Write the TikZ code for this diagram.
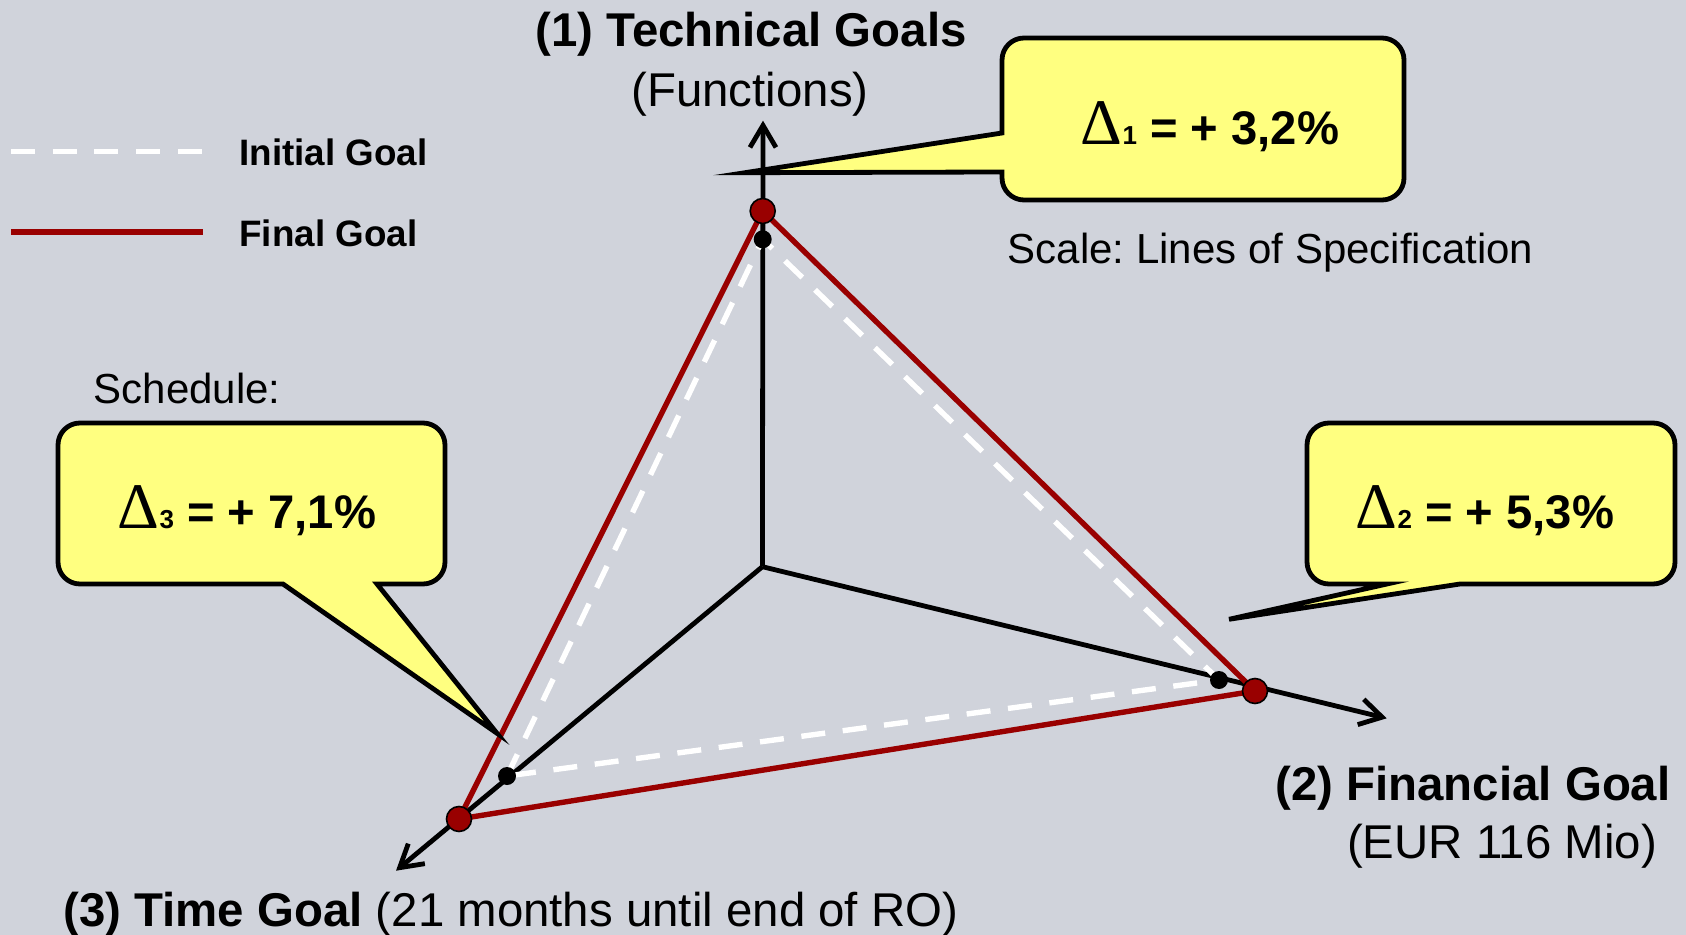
\documentclass[tikz,border=0pt]{standalone}
\usepackage{fontspec}
\setmainfont{Liberation Sans}
\newfontfamily\deltafont{Liberation Serif}
\usetikzlibrary{arrows.meta}
\definecolor{bgc}{RGB}{208,211,219}
\definecolor{callyellow}{RGB}{255,255,128}
\definecolor{goalred}{RGB}{153,0,0}
\newcommand\dsym[1]{{\deltafont\mdseries\fontsize{32.5}{32}\selectfont Δ}{\bfseries\fontsize{13}{13}\selectfont #1}}
\frenchspacing
\begin{document}
\begin{tikzpicture}[x=0.5pt,y=-0.5pt,
  axisline/.style={line width=2.4pt,-{Straight Barb[length=11pt,width=13pt]}},
  initialline/.style={white,line width=2.7pt,dash pattern=on 12pt off 8.85pt},
  finalline/.style={goalred,line width=2.7pt,line join=round},
  reddot/.style={circle,fill=goalred,draw=black,line width=0.8pt,minimum size=12.5pt,inner sep=0pt},
  blackdot/.style={circle,fill=black,minimum size=9pt,inner sep=0pt},
  callout/.style={fill=callyellow,draw=black,line width=2.4pt,line join=miter,miter limit=20},
  calltext/.style={inner sep=0pt,font=\bfseries\fontsize{23.6}{28}\selectfont},
  title/.style={inner sep=0pt,font=\fontsize{23.7}{28}\selectfont},
  note/.style={inner sep=0pt,font=\fontsize{21}{25}\selectfont},
  legendtext/.style={inner sep=0pt,font=\bfseries\fontsize{18.4}{22}\selectfont}
]
\fill[bgc] (0,0) rectangle (1686,935);
\useasboundingbox (0,0) rectangle (1686,935);

% axes
\coordinate (O) at (762.4,566.7);
\coordinate (uptip) at (763,120.7);
\coordinate (righttip) at (1386.7,718.3);
\coordinate (lefttip) at (396,870.7);
\draw[axisline] (O) -- (uptip);
\draw[axisline] (O) -- (righttip);
\draw[axisline] (O) -- (lefttip);

% goal points
\coordinate (techI) at (762.7,239.3);
\coordinate (finI) at (1219,680);
\coordinate (timeI) at (507,776);
\coordinate (techF) at (762.7,211);
\coordinate (finF) at (1255,691);
\coordinate (timeF) at (459,819);

\draw[initialline] (timeI) -- (techI) -- (finI) -- cycle;
\draw[finalline] (timeF) -- (techF) -- (finF) -- cycle;

\node[blackdot] (dTechI) at (techI) {};
\node[blackdot] (dFinI) at (finI) {};
\node[blackdot] (dTimeI) at (timeI) {};
\node[reddot] (dTechF) at (techF) {};
\node[reddot] (dFinF) at (finF) {};
\node[reddot] (dTimeF) at (timeF) {};

% legend
\coordinate (lgIa) at (11,151.7);
\coordinate (lgIb) at (203,151.7);
\coordinate (lgFa) at (11,231.7);
\coordinate (lgFb) at (203,231.7);
\draw[white,line width=2.6pt,dash pattern=on 12pt off 8.85pt] (lgIa) -- (lgIb);
\draw[goalred,line width=2.9pt] (lgFa) -- (lgFb);
\node[legendtext,anchor=base west] (lgI) at (239,165.7) {Initial Goal};
\node[legendtext,anchor=base west] (lgF) at (239,246.7) {Final Goal};

% titles
\node[title,anchor=base] (t1) at (751,47) {\bfseries (1) Technical Goals};
\node[title,anchor=base] (t1b) at (750,107) {(Functions)};
\node[title,anchor=base west] (t2) at (1275,800) {\bfseries (2) Financial Goal};
\node[title,anchor=base west] (t2b) at (1346.7,858.3) {(EUR 116 Mio)};
\node[title,anchor=base west] (t3) at (63,926.7) {\textbf{(3) Time Goal} (21 months until end of RO)};
\node[note,anchor=base west] (scale) at (1007.5,263.3) {Scale: Lines of Specification};
\node[note,anchor=base west] (sched) at (93.5,403.3) {Schedule:};

% callout 1
\coordinate (tip1) at (745,172.7);
\draw[callout] (1002,60) arc[start angle=180,end angle=270,radius=22] -- (1382,38)
  arc[start angle=270,end angle=360,radius=22] -- (1404,178)
  arc[start angle=0,end angle=90,radius=22] -- (1024,200)
  arc[start angle=90,end angle=180,radius=22] -- (1002,172) -- (tip1) -- (1002,133) -- cycle;
\node[calltext,anchor=base] (c1) at (1210,145) {\dsym{1} = + 3,2\%};

% callout 2
\coordinate (tip2) at (1229,619.3);
\draw[callout] (1307,445) arc[start angle=180,end angle=270,radius=22] -- (1653,423)
  arc[start angle=270,end angle=360,radius=22] -- (1675,562)
  arc[start angle=0,end angle=90,radius=22] -- (1460,584) -- (tip2) -- (1387,584) -- (1329,584)
  arc[start angle=90,end angle=180,radius=22] -- cycle;
\node[calltext,anchor=base] (c2) at (1485,528) {\dsym{2} = + 5,3\%};

% callout 3
\coordinate (tip3) at (497,733.3);
\draw[callout] (58,445) arc[start angle=180,end angle=270,radius=22] -- (423,423)
  arc[start angle=270,end angle=360,radius=22] -- (445,562)
  arc[start angle=0,end angle=90,radius=22] -- (377,584) -- (tip3) -- (283,584) -- (80,584)
  arc[start angle=90,end angle=180,radius=22] -- cycle;
\node[calltext,anchor=base] (c3) at (247,528) {\dsym{3} = + 7,1\%};
\end{tikzpicture}
\end{document}
